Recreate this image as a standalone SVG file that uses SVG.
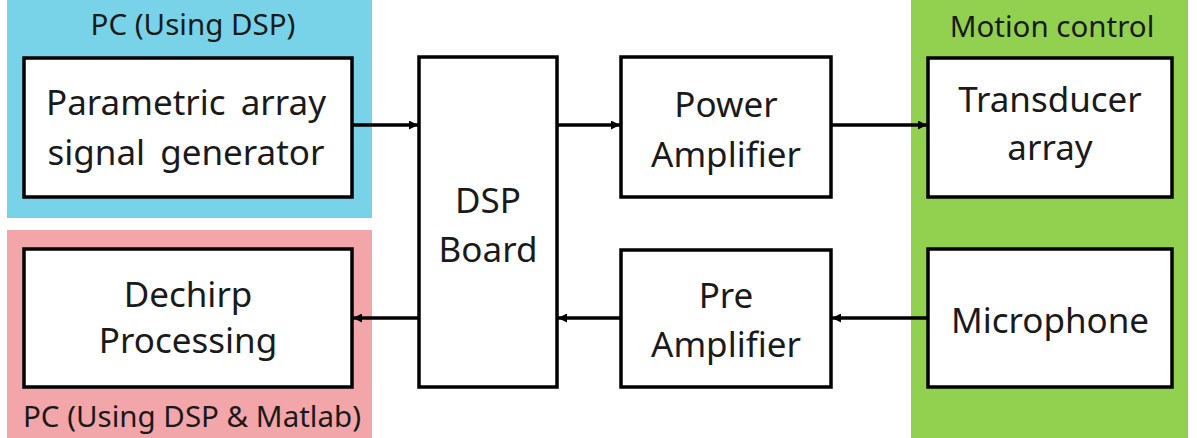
<svg xmlns="http://www.w3.org/2000/svg" width="1197" height="438" viewBox="0 0 1197 438">
<style>
.box{fill:#fff;stroke:#000;stroke-width:3.5}
.t{font-family:"Noto Sans","Open Sans",sans-serif;font-size:35px;fill:#1a1a1a;text-anchor:middle}
.w{word-spacing:6px}
.g{font-family:"Noto Sans","Open Sans",sans-serif;font-size:29.5px;fill:#1a1a1a;text-anchor:middle}
.c{stroke:#000;stroke-width:3.5;fill:none;marker-end:url(#ah)}
</style>
<defs>
<marker id="ah" viewBox="0 0 10 10" refX="10" refY="5" markerWidth="11" markerHeight="9" markerUnits="userSpaceOnUse" orient="auto">
<path d="M0,0 L10,5 L0,10 z" fill="#000"/>
</marker>
</defs>
<rect width="1197" height="438" fill="#fff"/>
<g id="group-pc-dsp">
<rect x="7" y="0" width="365" height="218" fill="#78D3E8"/>
<text class="g" x="193" y="35">PC (Using DSP)</text>
</g>
<g id="group-pc-matlab">
<rect x="7" y="230" width="365" height="208" fill="#F2A6A9"/>
<text class="g" x="192" y="427">PC (Using DSP &amp; Matlab)</text>
</g>
<g id="group-motion">
<rect x="911" y="0" width="277" height="438" fill="#92D050"/>
<text class="g" x="1052" y="37">Motion control</text>
</g>
<g id="node-generator">
<rect class="box" x="24" y="58" width="328" height="139"/>
<text class="t w" x="186" y="115">Parametric array</text>
<text class="t w" x="186" y="165">signal generator</text>
</g>
<g id="node-dechirp">
<rect class="box" x="24" y="249" width="328" height="138"/>
<text class="t" x="188" y="307">Dechirp</text>
<text class="t" x="188" y="353">Processing</text>
</g>
<g id="node-dsp">
<rect class="box" x="419" y="57" width="138" height="330"/>
<text class="t" x="488" y="213">DSP</text>
<text class="t" x="488" y="262">Board</text>
</g>
<g id="node-power">
<rect class="box" x="621" y="57" width="210" height="140"/>
<text class="t" x="726" y="117">Power</text>
<text class="t" x="726" y="167">Amplifier</text>
</g>
<g id="node-pre">
<rect class="box" x="621" y="250" width="210" height="137"/>
<text class="t" x="726" y="308">Pre</text>
<text class="t" x="726" y="357">Amplifier</text>
</g>
<g id="node-transducer">
<rect class="box" x="928" y="58" width="244" height="139"/>
<text class="t" x="1050" y="112">Transducer</text>
<text class="t" x="1050" y="160">array</text>
</g>
<g id="node-microphone">
<rect class="box" x="928" y="249" width="244" height="138"/>
<text class="t" x="1050" y="333">Microphone</text>
</g>
<g id="connectors">
<line class="c" x1="352" y1="125" x2="418" y2="125"/>
<line class="c" x1="557" y1="125" x2="620" y2="125"/>
<line class="c" x1="831" y1="125" x2="927" y2="125"/>
<line class="c" x1="927" y1="318" x2="832" y2="318"/>
<line class="c" x1="620" y1="318" x2="558" y2="318"/>
<line class="c" x1="418" y1="318" x2="353" y2="318"/>
</g>
</svg>
